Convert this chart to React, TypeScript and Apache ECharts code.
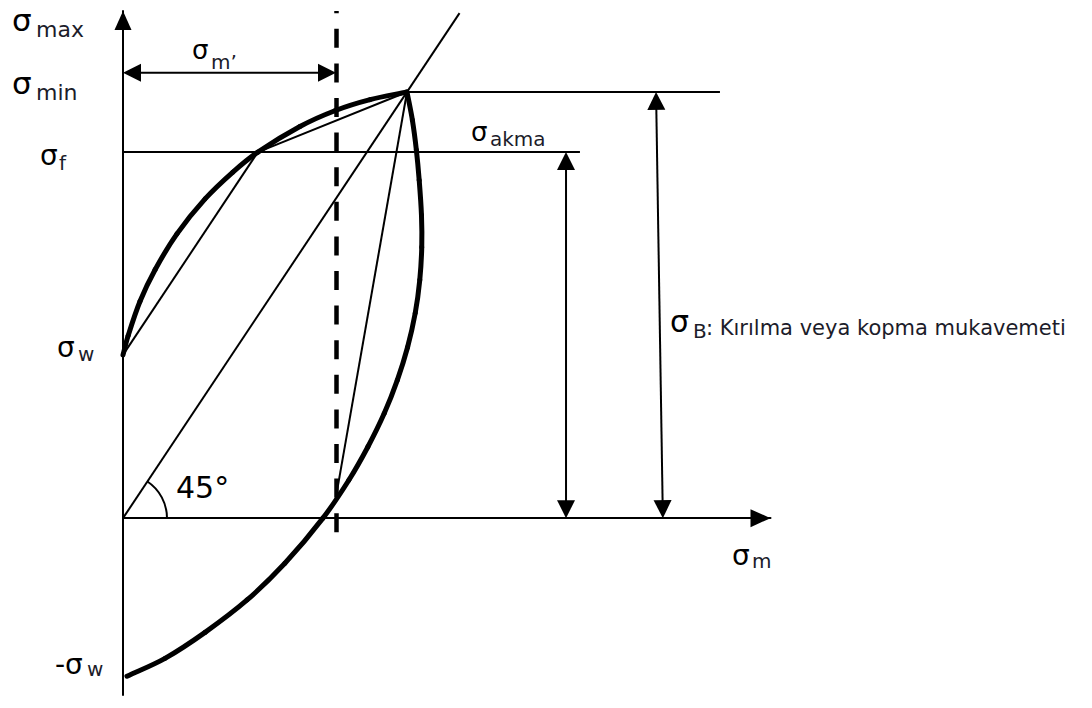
import React, { useEffect, useRef } from "react";
import * as echarts from "echarts";

// Smith (fatigue strength) diagram, stresses normalised to σB = 1.
const sigmaF = 0.859; // yield strength σf
const sigmaW = 0.383; // alternating fatigue strength σw
const sigmaFx = 0.475; // mean stress where σmax reaches σf
const sigmaMPrime = 0.75; // σm' (dashed construction line)
const xMax = 2.28;
const yMin = -0.415;
const yMax = 1.19;

// σmax limit curve
const upperCurve: [number, number][] = [
  [0, 0.383], [0.018, 0.428], [0.06, 0.509], [0.113, 0.583], [0.19, 0.667],
  [0.289, 0.749], [0.387, 0.812], [0.475, 0.859], [0.623, 0.919], [0.746, 0.956],
  [0.87, 0.982], [1, 1],
];

// σmin limit curve
const lowerCurve: [number, number][] = [
  [1, 1], [1.019, 0.934], [1.033, 0.864], [1.043, 0.793], [1.051, 0.711],
  [1.052, 0.636], [1.045, 0.559], [1.029, 0.481], [1.002, 0.401], [0.966, 0.324],
  [0.92, 0.246], [0.862, 0.167], [0.795, 0.089], [0.704, 0], [0.57, -0.106],
  [0.437, -0.192], [0.289, -0.268], [0.148, -0.329], [0.014, -0.371],
];

// thin construction lines
const guideSegments: [number, number][][] = [
  [[0, sigmaW], [sigmaFx, sigmaF]],
  [[sigmaFx, sigmaF], [1, 1]],
  [[1, 1], [sigmaMPrime, 0.05]],
  [[0, 0], [1.185, 1.185]],
  [[1, 1], [2.102, 1]],
  [[0, sigmaF], [1.609, sigmaF]],
];

const dashedSegment: [number, number][] = [[sigmaMPrime, -0.033], [sigmaMPrime, yMax]];

// double-headed dimension arrows [x1, y1, x2, y2]
const dimensionArrows: number[][] = [
  [1.56, 0, 1.56, sigmaF],
  [1.901, 0, 1.877, 1],
  [0, 1.045, sigmaMPrime, 1.045],
];

const FONT = "DejaVu Sans";
const INK = "#000";
const SUB = "#1c1c2a";

// Thick limit curve drawn as a chord-length Hermite spline through its points.
function curveSeries(pts: [number, number][]) {
  return {
    type: "custom",
    coordinateSystem: "cartesian2d",
    z: 4,
    encode: { x: 0, y: 1 },
    data: pts,
    renderItem: (params: any, api: any) => {
      const i = params.dataIndex;
      const n = pts.length;
      if (i >= n - 1) return null;
      const P = pts.map((p) => api.coord(p) as number[]);
      const t = [0];
      for (let k = 1; k < n; k++) {
        t.push(t[k - 1] + Math.hypot(P[k][0] - P[k - 1][0], P[k][1] - P[k - 1][1]));
      }
      const tangent = (k: number) => {
        const a = Math.max(k - 1, 0);
        const b = Math.min(k + 1, n - 1);
        const dt = t[b] - t[a];
        return [(P[b][0] - P[a][0]) / dt, (P[b][1] - P[a][1]) / dt];
      };
      const h = (t[i + 1] - t[i]) / 3;
      const m0 = tangent(i);
      const m1 = tangent(i + 1);
      return {
        type: "bezierCurve",
        shape: {
          x1: P[i][0],
          y1: P[i][1],
          cpx1: P[i][0] + m0[0] * h,
          cpy1: P[i][1] + m0[1] * h,
          cpx2: P[i + 1][0] - m1[0] * h,
          cpy2: P[i + 1][1] - m1[1] * h,
          x2: P[i + 1][0],
          y2: P[i + 1][1],
        },
        style: { stroke: INK, lineWidth: 5, fill: "none", lineCap: "round" },
      };
    },
  };
}

export default function App() {
  const ref = useRef<HTMLDivElement>(null);

  useEffect(() => {
    const el = ref.current!;
    const chart = echarts.init(el, null, { renderer: "svg" });

    const axisCommon = {
      type: "value",
      axisTick: { show: false },
      axisLabel: { show: false },
      splitLine: { show: false },
    };

    chart.setOption({
      animation: false,
      backgroundColor: "#fff",
      grid: { left: 123, top: 11, right: 1092 - 123 - 647.5, bottom: 13 },
      xAxis: {
        ...axisCommon,
        min: 0,
        max: xMax,
        axisLine: {
          show: true,
          onZero: true,
          symbol: ["none", "triangle"],
          symbolSize: [18, 20],
          symbolOffset: [0, -10],
          lineStyle: { color: INK, width: 2 },
        },
      },
      yAxis: {
        ...axisCommon,
        min: yMin,
        max: yMax,
        axisLine: {
          show: true,
          onZero: false,
          symbol: ["none", "triangle"],
          symbolSize: [17, 19],
          symbolOffset: [0, -9.5],
          lineStyle: { color: INK, width: 2 },
        },
      },
      series: [
        {
          type: "lines",
          coordinateSystem: "cartesian2d",
          z: 2,
          lineStyle: { color: INK, width: 2, opacity: 1 },
          data: guideSegments.map((c) => ({ coords: c })),
        },
        {
          type: "lines",
          coordinateSystem: "cartesian2d",
          z: 2,
          lineStyle: { color: INK, width: 4.5, opacity: 1, type: [19, 15.6] },
          data: [{ coords: dashedSegment }],
        },
        {
          type: "custom",
          coordinateSystem: "cartesian2d",
          z: 3,
          encode: { x: [0, 2], y: [1, 3] },
          data: dimensionArrows,
          renderItem: (_p: any, api: any) => {
            const a = api.coord([api.value(0), api.value(1)]);
            const b = api.coord([api.value(2), api.value(3)]);
            const dx = b[0] - a[0];
            const dy = b[1] - a[1];
            const len = Math.hypot(dx, dy);
            const ux = dx / len;
            const uy = dy / len;
            const nx = -uy;
            const ny = ux;
            const L = 18;
            const W = 9;
            const head = (tip: number[], dir: number) => {
              const bx = tip[0] - dir * L * ux;
              const by = tip[1] - dir * L * uy;
              return {
                type: "polygon",
                shape: {
                  points: [
                    [tip[0], tip[1]],
                    [bx + W * nx, by + W * ny],
                    [bx - W * nx, by - W * ny],
                  ],
                },
                style: { fill: INK },
              };
            };
            return {
              type: "group",
              children: [
                {
                  type: "line",
                  shape: {
                    x1: a[0] + ux * 10,
                    y1: a[1] + uy * 10,
                    x2: b[0] - ux * 10,
                    y2: b[1] - uy * 10,
                  },
                  style: { stroke: INK, lineWidth: 2 },
                },
                head(b, 1),
                head(a, -1),
              ],
            };
          },
        },
        curveSeries(upperCurve),
        curveSeries(lowerCurve),
      ],
    });

    const px = (x: number, y: number) => chart.convertToPixel({ gridIndex: 0 }, [x, y]) as number[];
    const origin = px(0, 0);
    const diag = px(1, 1);
    const angle = Math.atan2(diag[1] - origin[1], diag[0] - origin[0]);

    const txt = (text: string, x: number, y: number, size: number, fill = INK) => ({
      type: "text",
      x,
      y,
      silent: true,
      z: 10,
      style: {
        text,
        fontSize: size,
        fontFamily: FONT,
        fill,
        align: "left",
        verticalAlign: "middle",
      },
    });

    chart.setOption({
      graphic: [
        {
          type: "arc",
          silent: true,
          z: 10,
          shape: { cx: origin[0], cy: origin[1], r: 44, startAngle: angle, endAngle: 0, clockwise: true },
          style: { stroke: INK, lineWidth: 2, fill: "none" },
        },
        txt("σ", 12, 20, 31),
        txt("max", 36, 29, 22, SUB),
        txt("σ", 12, 83, 31),
        txt("min", 36, 92, 22, SUB),
        txt("σ", 192, 50, 26),
        txt("m’", 211, 62, 20, SUB),
        txt("σ", 40, 155, 28),
        txt("f", 59, 163, 20, SUB),
        txt("σ", 471, 132, 26),
        txt("akma", 490, 139, 20, SUB),
        txt("σ", 57, 347, 28),
        txt("w", 78, 354, 20, SUB),
        txt("-σ", 55, 664, 28),
        txt("w", 87, 669, 20, SUB),
        txt("σ", 732, 555, 28),
        txt("m", 752, 561, 20, SUB),
        txt("45°", 176, 487, 30),
        txt("σ", 670, 321, 30),
        txt("B", 693, 331, 20, SUB),
        txt(": Kırılma veya kopma mukavemeti", 706, 328, 21, SUB),
      ],
    });

    return () => chart.dispose();
  }, []);

  return (
    <div
      ref={ref}
      style={{ position: "fixed", left: 0, top: 0, width: 1092, height: 708, background: "#fff" }}
    />
  );
}
